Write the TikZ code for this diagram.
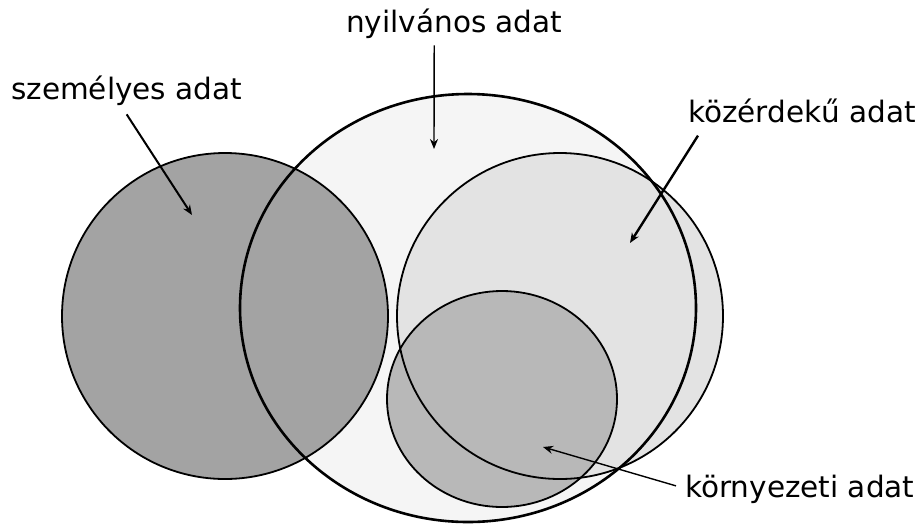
\documentclass[tikz,border=0pt]{standalone}
\usepackage{fontspec}
\setmainfont{DejaVu Sans}
\usetikzlibrary{arrows.meta}

\begin{document}
\begin{tikzpicture}[x=1pt, y=-1pt, >={Stealth[length=10pt,width=8pt]},
    halmaz/.style={draw=black, line width=1.8pt},
    felirat/.style={font=\fontsize{29.5}{34}\selectfont, inner sep=3pt, anchor=base west},
    nyil/.style={->, line width=1.6pt}]
    \useasboundingbox (0,0) rectangle (924,523);
    % kitoltesek
    \fill[black!4] (468,308) ellipse [x radius=228pt, y radius=214pt];
    \fill[black!11] (560,316) circle [radius=163pt];
    \fill[black!28] (502,399) ellipse [x radius=115pt, y radius=108pt];
    \fill[black!36] (225,316) circle [radius=163pt];
    % korvonalak
    \draw[halmaz] (225,316) circle [radius=163pt];
    \draw[halmaz] (560,316) circle [radius=163pt];
    \draw[halmaz] (502,399) ellipse [x radius=115pt, y radius=108pt];
    \draw[halmaz, line width=2.6pt] (468,308) ellipse [x radius=228pt, y radius=214pt];
    % feliratok
    \node[felirat] (szem) at (8,99) {személyes adat};
    \node[felirat] (nyilv) at (343,32) {nyilvános adat};
    \node[felirat] (koz) at (685,122) {közérdekű adat};
    \node[felirat] (korny) at (682,497) {környezeti adat};
    \coordinate (szemtip) at (192,215);
    \coordinate (nyilvtip) at (434,149);
    \coordinate (koztip) at (630,243);
    \coordinate (kornytip) at (543,447);
    % nyilak
    \draw[nyil, line width=2pt] ([yshift=-6pt]szem.south) -- (szemtip);
    \draw[nyil, line width=1.4pt] ([xshift=-20pt,yshift=-4pt]nyilv.south) -- (nyilvtip);
    \draw[nyil, line width=2.4pt] ([xshift=13pt,yshift=-10pt]koz.south west) -- (koztip);
    \draw[nyil, line width=1.4pt] ([xshift=-6pt,yshift=3pt]korny.west) -- (kornytip);
\end{tikzpicture}
\end{document}
